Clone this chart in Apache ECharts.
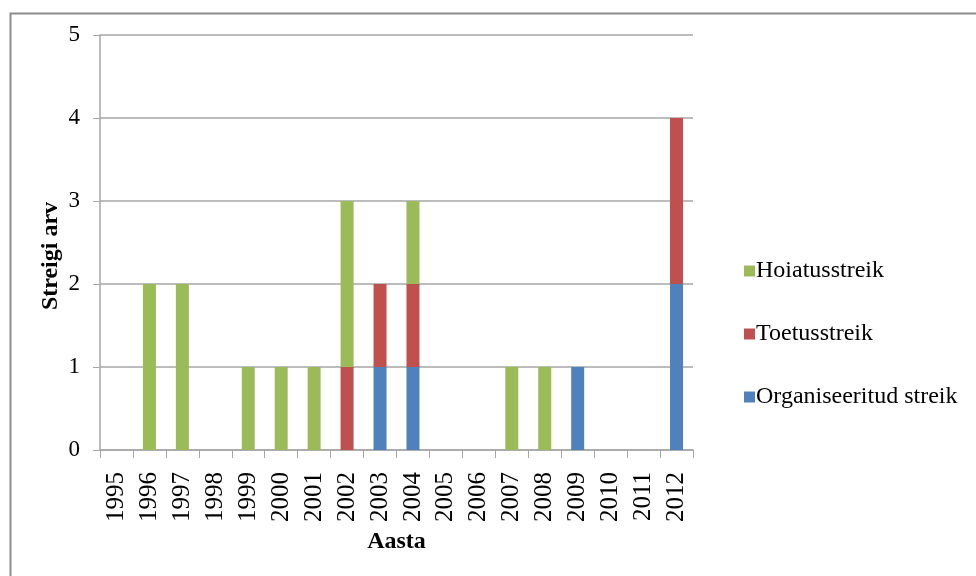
<!DOCTYPE html>
<html>
<head>
<meta charset="utf-8">
<script src="https://cdn.jsdelivr.net/npm/echarts@6/dist/echarts.min.js"></script>
<style>
html,body{margin:0;padding:0;background:#fff;}
#chart{width:976px;height:576px;}
</style>
</head>
<body>
<div id="chart"></div>
<script>
const years = ['1995','1996','1997','1998','1999','2000','2001','2002','2003','2004','2005','2006','2007','2008','2009','2010','2011','2012'];
const organiseeritud = [0,0,0,0,0,0,0,0,1,1,0,0,0,0,1,0,0,2];
const toetus = [0,0,0,0,0,0,0,1,1,1,0,0,0,0,0,0,0,2];
const hoiatus = [0,2,2,0,1,1,1,2,0,1,0,0,1,1,0,0,0,0];
const seriesNames = ['Organiseeritud streik','Toetusstreik','Hoiatusstreik'];
const colors = ['#4F81BD','#C0504D','#9BBB59'];

const font = 'Liberation Serif, Times New Roman, serif';
const chart = echarts.init(document.getElementById('chart'));
const mk = (name, data, color) => ({
  name, type: 'bar', stack: 'total', data, barWidth: 13,
  itemStyle: {color}, emphasis: {disabled: true}
});
chart.setOption({
  animation: false,
  textStyle: {fontFamily: font},
  graphic: [
    {type: 'rect', left: 8, top: 11, shape: {width: 1100, height: 700},
     style: {fill: 'none', stroke: '#8c8c8c', lineWidth: 2}},
    {type: 'text', x: 51, y: 256, rotation: Math.PI/2,
     style: {text: 'Streigi arv', font: 'bold 24px ' + font, fill: '#000',
       textAlign: 'center', textVerticalAlign: 'middle'}}
  ],
  grid: {left: 100, right: 283, top: 35, bottom: 126},
  legend: {
    orient: 'vertical', left: 739, top: 254, itemGap: 39,
    itemWidth: 11, itemHeight: 11, icon: 'rect',
    data: ['Hoiatusstreik','Toetusstreik','Organiseeritud streik'],
    textStyle: {fontFamily: font, fontSize: 24, color: '#000', padding: [0,0,0,-4]}
  },
  xAxis: {
    type: 'category', data: years,
    name: 'Aasta', nameLocation: 'middle', nameGap: 78,
    nameTextStyle: {fontFamily: font, fontSize: 24, fontWeight: 'bold', color: '#000'},
    axisLine: {lineStyle: {color: '#a6a6a6', width: 1.5}},
    axisTick: {show: true, length: 8, lineStyle: {color: '#a6a6a6'}},
    axisLabel: {rotate: 90, margin: 22, fontSize: 25, color: '#000', fontFamily: font, interval: 0}
  },
  yAxis: {
    type: 'value', min: 0, max: 5, interval: 1,
    axisLine: {show: true, lineStyle: {color: '#a6a6a6', width: 1.5}},
    axisTick: {show: true, length: 7, lineStyle: {color: '#a6a6a6'}},
    splitLine: {lineStyle: {color: '#a6a6a6', width: 1.5}},
    axisLabel: {margin: 20, fontSize: 23, color: '#000', fontFamily: font}
  },
  series: [
    mk(seriesNames[0], organiseeritud, colors[0]),
    mk(seriesNames[1], toetus, colors[1]),
    mk(seriesNames[2], hoiatus, colors[2])
  ]
});
</script>
</body>
</html>
